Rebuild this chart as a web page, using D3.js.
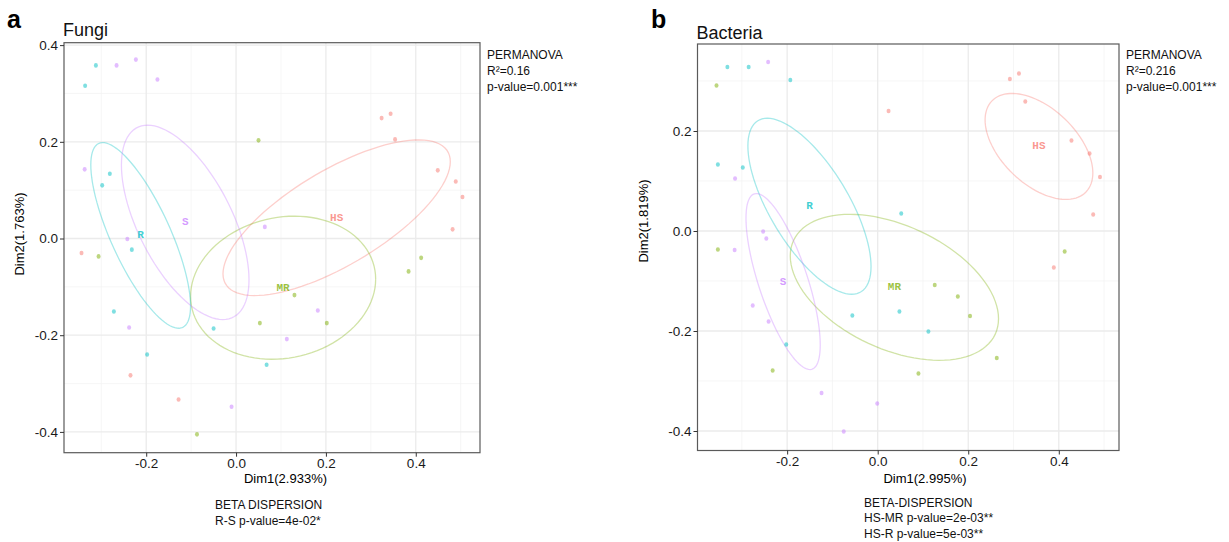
<!DOCTYPE html>
<html>
<head>
<meta charset="utf-8">
<script src="https://cdn.jsdelivr.net/npm/d3@7"></script>
<style>
  body { margin: 0; background: #fff; }
  svg text { font-family: "Liberation Sans", Arial, Helvetica, sans-serif; }
</style>
</head>
<body>
<div id="chart"></div>
<script>
// group order and ggplot hue colours
const groups = ["HS", "MR", "R", "S"];
const colors = ["#F8766D", "#7CAE00", "#00BFC4", "#C77CFF"];

const xTicks = [-0.2, 0.0, 0.2, 0.4];
const yTicksFungi = [-0.4, -0.2, 0.0, 0.2, 0.4];
const yTicksBact = [-0.4, -0.2, 0.0, 0.2];
const xMinor = [-0.3, -0.1, 0.1, 0.3, 0.5];
const yMinor = [-0.3, -0.1, 0.1, 0.3];

// ---- Fungi points (Dim1, Dim2) ----
const fungiHS = [[0.324, 0.249], [0.344, 0.258], [0.354, 0.205], [0.449, 0.141], [0.489, 0.118],
  [0.504, 0.086], [0.482, 0.019], [-0.344, -0.030], [-0.235, -0.283], [-0.128, -0.333]];
const fungiMR = [[0.050, 0.203], [-0.306, -0.037], [0.412, -0.040], [0.384, -0.068], [0.130, -0.117],
  [0.053, -0.175], [0.202, -0.175], [-0.087, -0.405]];
const fungiR = [[-0.312, 0.358], [-0.336, 0.316], [-0.281, 0.134], [-0.298, 0.110], [-0.232, -0.023],
  [-0.272, -0.151], [-0.050, -0.186], [-0.198, -0.240], [0.068, -0.261]];
const fungiS = [[-0.266, 0.358], [-0.223, 0.370], [-0.175, 0.329], [-0.337, 0.143], [-0.242, -0.001],
  [0.064, 0.024], [-0.238, -0.184], [0.182, -0.149], [0.113, -0.208], [-0.010, -0.348]];

// ellipse half-widths (Dim1), half-heights (Dim2), correlation, in group order
const fungiEllSx = [0.253, 0.206, 0.111, 0.142];
const fungiEllSy = [0.161, 0.148, 0.192, 0.201];
const fungiEllR = [0.72, 0.12, -0.76, -0.59];

// ---- Bacteria points ----
const bactHS = [[0.292, 0.304], [0.312, 0.315], [0.326, 0.259], [0.024, 0.240], [0.428, 0.181],
  [0.468, 0.155], [0.491, 0.108], [0.476, 0.033], [0.389, -0.073]];
const bactMR = [[-0.356, 0.291], [-0.353, -0.037], [0.413, -0.041], [0.126, -0.108], [0.177, -0.131],
  [0.204, -0.170], [0.263, -0.254], [0.090, -0.285], [-0.232, -0.279]];
const bactR = [[-0.332, 0.328], [-0.285, 0.328], [-0.193, 0.302], [-0.353, 0.133], [-0.298, 0.127],
  [0.052, 0.035], [-0.056, -0.169], [0.048, -0.161], [0.112, -0.201], [-0.202, -0.227]];
const bactS = [[-0.242, 0.338], [-0.315, 0.105], [-0.253, -0.001], [-0.246, -0.015], [-0.316, -0.038],
  [-0.276, -0.149], [-0.241, -0.181], [-0.124, -0.324], [-0.001, -0.345], [-0.075, -0.401]];

const bactEllSx = [0.119, 0.230, 0.136, 0.082];
const bactEllSy = [0.106, 0.146, 0.176, 0.176];
const bactEllR = [-0.50, -0.43, -0.685, -0.72];

const svg = d3.select("#chart").append("svg")
  .attr("width", 1229).attr("height", 542);

function fmt(d) { return d.toFixed(1); }

function drawPanel(p) {
  const x = d3.scaleLinear().domain(p.xDom).range([p.left, p.right]);
  const y = d3.scaleLinear().domain(p.yDom).range([p.bottom, p.top]);
  const g = svg.append("g");

  // grid: minor then major
  const minorX = xMinor.filter(v => v > p.xDom[0] && v < p.xDom[1]);
  const minorY = yMinor.filter(v => v > p.yDom[0] && v < p.yDom[1]);
  g.selectAll(".mx").data(minorX).enter().append("line")
    .attr("x1", d => x(d)).attr("x2", d => x(d)).attr("y1", p.top).attr("y2", p.bottom)
    .attr("stroke", "#f2f2f2").attr("stroke-width", 0.7);
  g.selectAll(".my").data(minorY).enter().append("line")
    .attr("y1", d => y(d)).attr("y2", d => y(d)).attr("x1", p.left).attr("x2", p.right)
    .attr("stroke", "#f2f2f2").attr("stroke-width", 0.7);
  g.selectAll(".Mx").data(xTicks).enter().append("line")
    .attr("x1", d => x(d)).attr("x2", d => x(d)).attr("y1", p.top).attr("y2", p.bottom)
    .attr("stroke", "#ebebeb").attr("stroke-width", 1.3);
  g.selectAll(".My").data(p.yTicks).enter().append("line")
    .attr("y1", d => y(d)).attr("y2", d => y(d)).attr("x1", p.left).attr("x2", p.right)
    .attr("stroke", "#ebebeb").attr("stroke-width", 1.3);

  // ellipses
  const ts = d3.range(0, 101).map(i => i / 100 * 2 * Math.PI);
  const line = d3.line();
  p.sets.forEach((pts, i) => {
    const cx = d3.mean(pts, d => d[0]), cy = d3.mean(pts, d => d[1]);
    const sx = p.ellSx[i], sy = p.ellSy[i], r = p.ellR[i];
    const path = ts.map(t => [
      x(cx + sx * Math.cos(t)),
      y(cy + sy * (r * Math.cos(t) + Math.sqrt(1 - r * r) * Math.sin(t)))
    ]);
    g.append("path").attr("d", line(path))
      .attr("fill", "none").attr("stroke", colors[i])
      .attr("stroke-opacity", 0.35).attr("stroke-width", 1.3);
  });

  // points
  p.sets.forEach((pts, i) => {
    g.selectAll(null).data(pts).enter().append("ellipse")
      .attr("cx", d => x(d[0])).attr("cy", d => y(d[1]))
      .attr("rx", 2).attr("ry", 2.3)
      .attr("fill", colors[i]).attr("fill-opacity", 0.5);
  });

  // group labels at centroids
  p.sets.forEach((pts, i) => {
    g.append("text")
      .attr("x", x(d3.mean(pts, d => d[0])))
      .attr("y", y(d3.mean(pts, d => d[1])))
      .attr("text-anchor", "middle").attr("dominant-baseline", "central")
      .style("font-family", "'Liberation Mono', 'DejaVu Sans Mono', monospace")
      .style("font-weight", "bold").style("font-size", "11px")
      .attr("fill", colors[i]).attr("fill-opacity", 0.75)
      .text(groups[i]);
  });

  // panel border
  g.append("rect")
    .attr("x", p.left).attr("y", p.top)
    .attr("width", p.right - p.left).attr("height", p.bottom - p.top)
    .attr("fill", "none").attr("stroke", "#5a5a5a").attr("stroke-width", 1.2);

  // axes
  const ax = g.append("g").attr("transform", `translate(0,${p.bottom})`)
    .call(d3.axisBottom(x).tickValues(xTicks).tickFormat(fmt).tickSize(4).tickPadding(2));
  const ay = g.append("g").attr("transform", `translate(${p.left},0)`)
    .call(d3.axisLeft(y).tickValues(p.yTicks).tickFormat(fmt).tickSize(4).tickPadding(2));
  [ax, ay].forEach(a => {
    a.select(".domain").remove();
    a.selectAll(".tick line").attr("stroke", "#333");
    a.selectAll(".tick text").attr("fill", "#1a1a1a")
      .style("font-size", "13.5px").style("font-family", "'Liberation Sans', Arial, sans-serif");
  });

  // panel letter & title
  svg.append("text").attr("x", p.letterX).attr("y", 28)
    .style("font-size", "25px").style("font-weight", "bold").text(p.letter);
  svg.append("text").attr("x", p.left - 1).attr("y", p.titleY)
    .style("font-size", "18px").attr("fill", "#111").text(p.title);

  // axis titles
  svg.append("text").attr("x", p.xlabX).attr("y", 483)
    .attr("text-anchor", "middle").style("font-size", "13px").text(p.xlab);
  svg.append("text")
    .attr("transform", `translate(${p.ylabX},${p.ylabY}) rotate(-90)`)
    .attr("text-anchor", "middle").style("font-size", "13px").text(p.ylab);

  // PERMANOVA note
  const perm = svg.append("text").attr("x", p.right + 7).style("font-size", "12px").attr("fill", "#111");
  p.perm.forEach((s, i) => perm.append("tspan").attr("x", p.right + 7).attr("y", 59 + i * 16).text(s));

  // dispersion note
  const disp = svg.append("text").style("font-size", "12px").attr("fill", "#111");
  p.disp.forEach((s, i) => disp.append("tspan").attr("x", p.dispX).attr("y", p.dispY + i * 15.5).text(s));
}

drawPanel({
  letter: "a", letterX: 7, title: "Fungi", titleY: 36,
  left: 64, right: 480, top: 42.7, bottom: 452.7,
  xDom: [-0.383, 0.543], yDom: [-0.443, 0.405], yTicks: yTicksFungi,
  sets: [fungiHS, fungiMR, fungiR, fungiS],
  ellSx: fungiEllSx, ellSy: fungiEllSy, ellR: fungiEllR,
  xlab: "Dim1(2.933%)", xlabX: 285.5, ylab: "Dim2(1.763%)", ylabX: 23.5, ylabY: 234,
  perm: ["PERMANOVA", "R\u00b2=0.16", "p-value=0.001***"],
  disp: ["BETA DISPERSION", "R-S p-value=4e-02*"], dispX: 215, dispY: 509
});

drawPanel({
  letter: "b", letterX: 651, title: "Bacteria", titleY: 38.5,
  left: 697.5, right: 1119, top: 44, bottom: 450.5,
  xDom: [-0.398, 0.533], yDom: [-0.439, 0.374], yTicks: yTicksBact,
  sets: [bactHS, bactMR, bactR, bactS],
  ellSx: bactEllSx, ellSy: bactEllSy, ellR: bactEllR,
  xlab: "Dim1(2.995%)", xlabX: 925, ylab: "Dim2(1.819%)", ylabX: 648, ylabY: 221,
  perm: ["PERMANOVA", "R\u00b2=0.216", "p-value=0.001***"],
  disp: ["BETA-DISPERSION", "HS-MR p-value=2e-03**", "HS-R p-value=5e-03**"], dispX: 864, dispY: 506.5
});
</script>
</body>
</html>
